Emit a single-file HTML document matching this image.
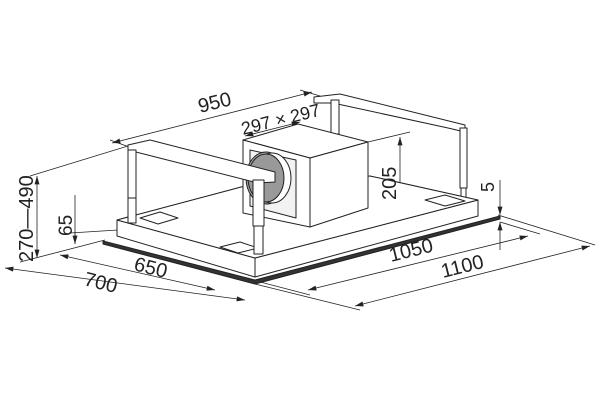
<!DOCTYPE html>
<html><head><meta charset="utf-8"><style>
html,body{margin:0;padding:0;background:#fff;width:600px;height:400px;overflow:hidden}
text{font-family:"Liberation Sans",sans-serif;fill:#222}
</style></head><body>
<svg width="600" height="400" viewBox="0 0 600 400" xmlns="http://www.w3.org/2000/svg">
<defs><marker id="a" viewBox="0 0 10 6" refX="10" refY="3" markerWidth="14" markerHeight="5" markerUnits="userSpaceOnUse" orient="auto-start-reverse"><path d="M0,0L10,3L0,6z" fill="#222"/></marker></defs>
<g stroke="#222" stroke-width="0.8" fill="none">
<line x1="112" y1="143" x2="312" y2="92" marker-start="url(#a)" marker-end="url(#a)"/>
<line x1="110" y1="140" x2="132" y2="148"/><line x1="300" y1="90" x2="320" y2="96"/>
<line x1="245" y1="136" x2="300" y2="122" marker-start="url(#a)" marker-end="url(#a)"/>
<line x1="37" y1="176" x2="37" y2="258" marker-start="url(#a)" marker-end="url(#a)"/>
<line x1="30" y1="176" x2="128" y2="146"/><line x1="20" y1="262" x2="105" y2="240"/>
<line x1="75" y1="195" x2="75" y2="244"/>
<line x1="75" y1="232" x2="75" y2="244" marker-end="url(#a)"/>
<line x1="70" y1="233" x2="118" y2="230"/>
<line x1="5" y1="268" x2="245" y2="300" marker-start="url(#a)" marker-end="url(#a)"/>
<line x1="60" y1="255" x2="215" y2="290" marker-start="url(#a)" marker-end="url(#a)"/>
<line x1="255" y1="284" x2="360" y2="310"/><line x1="245" y1="278" x2="310" y2="295"/>
<line x1="308" y1="290" x2="528" y2="236" marker-start="url(#a)" marker-end="url(#a)"/>
<line x1="355" y1="306" x2="590" y2="246" marker-start="url(#a)" marker-end="url(#a)"/>
<line x1="500" y1="222" x2="540" y2="234"/><line x1="498" y1="215" x2="595" y2="245"/>
<line x1="400" y1="137" x2="400" y2="200" marker-start="url(#a)" marker-end="url(#a)"/>
<line x1="368" y1="142" x2="410" y2="132"/><line x1="368" y1="200" x2="410" y2="198"/>
<line x1="500" y1="180" x2="500" y2="215" marker-end="url(#a)"/>
<line x1="500" y1="250" x2="500" y2="222" marker-end="url(#a)"/>
<line x1="117" y1="220" x2="245" y2="186"/>
<line x1="370" y1="176" x2="478" y2="200"/>
</g>
<g stroke="#222" stroke-width="1" fill="#fff" stroke-linejoin="round">
<polygon points="314,97 340,94 465,125 465,132 448,128 333,103 314,103"/>
<rect x="331" y="100" width="8" height="34"/>
<rect x="460" y="128" width="7" height="60"/>
<rect x="461" y="188" width="5" height="12"/>
<polygon points="103,241 255,280 500,216 500,219 255,284 103,244" fill="#333"/>
<polygon points="117,220 117,236 255,277 255,258"/>
<polygon points="255,258 255,277 478,216 478,200"/>
<polygon points="117,220 245,186 370,176 478,200 255,258"/>
<polygon points="140,218 160,212 178,218 158,224"/>
<polygon points="425,200 445,195 465,201 445,206"/>
<polygon points="220,247 240,242 258,248 238,253"/>
<polygon points="243,140 298,124 368,142 310,158"/>
<polygon points="243,140 310,158 310,227 243,213"/>
<polygon points="250,150 296,160 296,218 250,206" fill="#f2f2f2"/>
<ellipse cx="266" cy="178" rx="20" ry="26" fill="#aaa"/>
<ellipse cx="272" cy="178" rx="19" ry="25" fill="#fff"/>
<ellipse cx="266" cy="178" rx="18" ry="24" fill="#999"/>
<polygon points="310,158 368,142 368,208 310,227"/>
<polygon points="128,145 150,140 275,172 275,182 258,183 128,150"/>
<rect x="128" y="150" width="8" height="48"/>
<rect x="128" y="198" width="8" height="25"/>
<rect x="253" y="180" width="11" height="46"/>
<rect x="254" y="226" width="9" height="28"/>
</g>
<g fill="#222">
<text transform="translate(200,113) rotate(-14)" style="font-size:20px">950</text>
<text transform="translate(243,135) rotate(-14)" style="font-size:18px">297 × 297</text>
<text transform="translate(33,262) rotate(-90)" style="font-size:20px">270—490</text>
<text transform="translate(72,236) rotate(-90)" style="font-size:19px">65</text>
<text transform="translate(396,200) rotate(-90)" style="font-size:20px">205</text>
<text transform="translate(494,192) rotate(-90)" style="font-size:18px">5</text>
<text transform="translate(133,270) rotate(14)" style="font-size:20px">650</text>
<text transform="translate(83,285) rotate(14)" style="font-size:20px">700</text>
<text transform="translate(391,262) rotate(-14)" style="font-size:20px">1050</text>
<text transform="translate(443,278) rotate(-14)" style="font-size:20px">1100</text>
</g>
</svg>
</body></html>
